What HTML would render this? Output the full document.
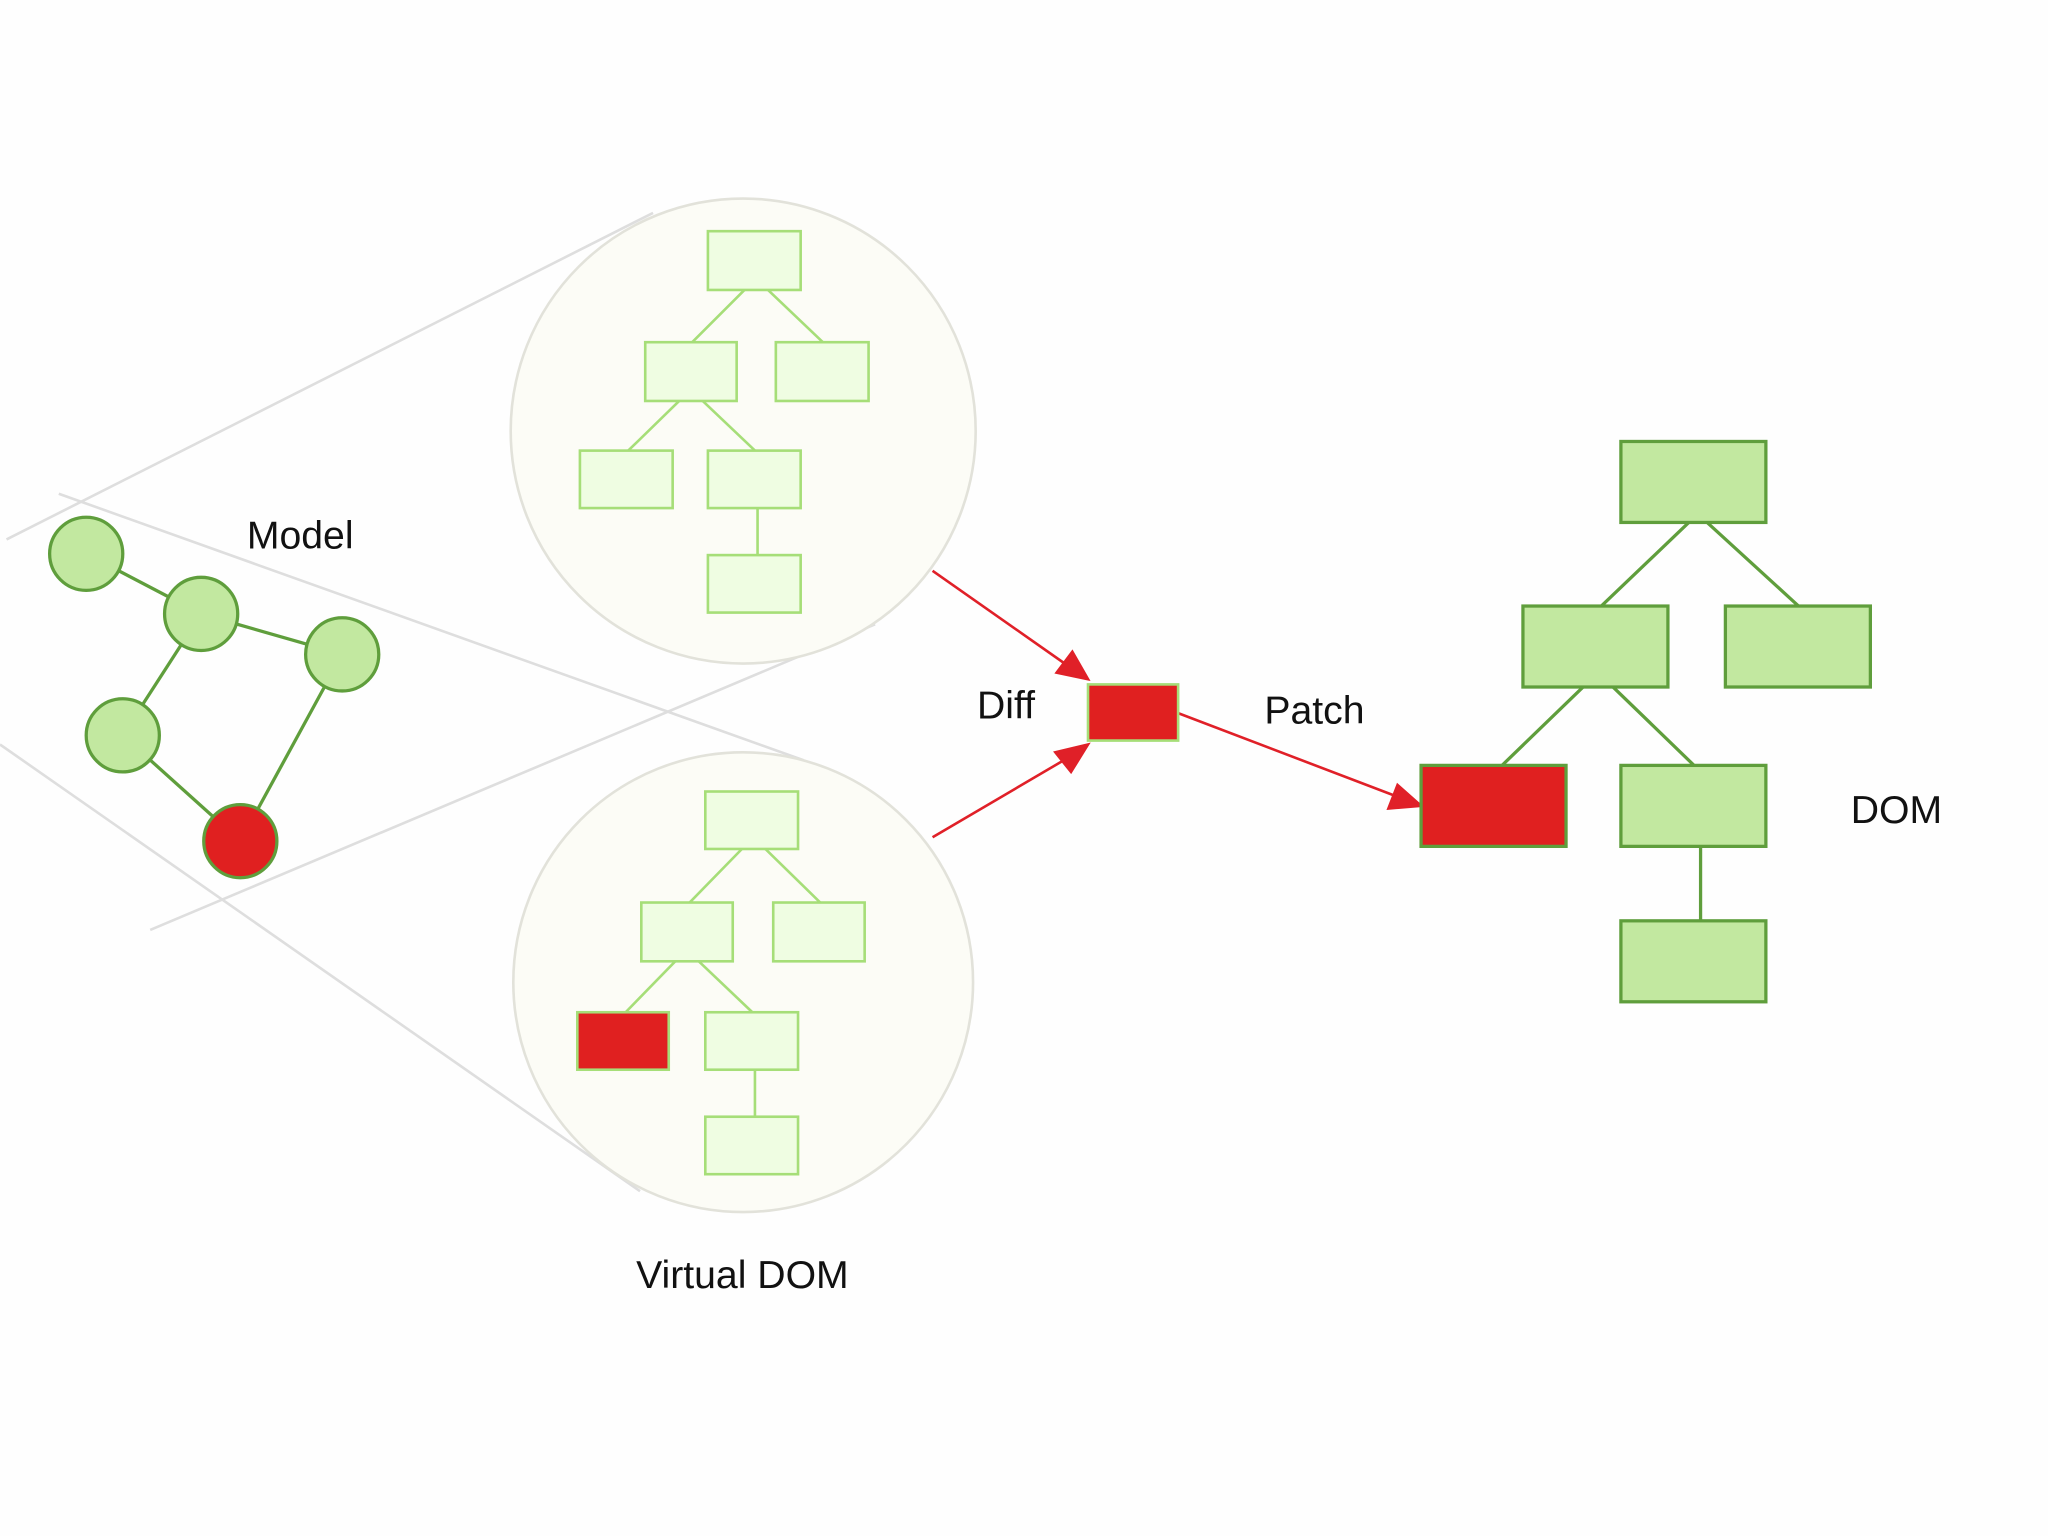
<!DOCTYPE html>
<html><head><meta charset="utf-8"><style>html,body{margin:0;padding:0;background:#fff}svg{display:block}</style></head>
<body>
<svg width="2048" height="1536" viewBox="0 0 1568 1176" xmlns="http://www.w3.org/2000/svg" font-family="Liberation Sans, sans-serif">
<rect width="1568" height="1176" fill="#fefefe"/>
<g stroke="#dedede" stroke-width="2" fill="none">
<line x1="5" y1="413" x2="500" y2="163"/>
<line x1="45" y1="378" x2="615" y2="582"/>
<line x1="115" y1="712" x2="670" y2="478"/>
<line x1="0" y1="570" x2="490" y2="912"/>
</g>
<circle cx="569" cy="330" r="178" fill="#fcfcf6" stroke="#e2e2da" stroke-width="2"/>
<circle cx="569" cy="752" r="176" fill="#fcfcf6" stroke="#e2e2da" stroke-width="2"/>
<g stroke="#a6de78" stroke-width="2">
<line x1="570" y1="222" x2="530" y2="262"/><line x1="588" y1="222" x2="630" y2="262"/>
<line x1="520" y1="307" x2="481" y2="345"/><line x1="538" y1="307" x2="578" y2="345"/>
<line x1="580" y1="389" x2="580" y2="425"/>
<line x1="568" y1="650" x2="528" y2="691"/><line x1="586" y1="650" x2="628" y2="691"/>
<line x1="517" y1="736" x2="479" y2="775"/><line x1="535" y1="736" x2="576" y2="775"/>
<line x1="578" y1="819" x2="578" y2="855"/>
</g>
<g fill="#effde2" stroke="#a6de78" stroke-width="2">
<rect x="542" y="177" width="71" height="45"/><rect x="494" y="262" width="70" height="45"/><rect x="594" y="262" width="71" height="45"/>
<rect x="444" y="345" width="71" height="44"/><rect x="542" y="345" width="71" height="44"/><rect x="542" y="425" width="71" height="44"/>
<rect x="540" y="606" width="71" height="44"/><rect x="491" y="691" width="70" height="45"/><rect x="592" y="691" width="70" height="45"/>
<rect x="540" y="775" width="71" height="44"/><rect x="540" y="855" width="71" height="44"/>
</g>
<rect x="442" y="775" width="70" height="44" fill="#e02020" stroke="#a6de78" stroke-width="2"/>
<g stroke="#5f9e3c" stroke-width="2.5">
<line x1="66" y1="424" x2="154" y2="470"/><line x1="154" y1="470" x2="262" y2="501"/>
<line x1="154" y1="470" x2="94" y2="563"/><line x1="94" y1="563" x2="184" y2="644"/>
<line x1="262" y1="501" x2="184" y2="644"/>
</g>
<g fill="#c2e8a0" stroke="#5f9e3c" stroke-width="2.5">
<circle cx="66" cy="424" r="28"/><circle cx="154" cy="470" r="28"/><circle cx="262" cy="501" r="28"/><circle cx="94" cy="563" r="28"/>
</g>
<circle cx="184" cy="644" r="28" fill="#e02020" stroke="#5f9e3c" stroke-width="2.5"/>
<g stroke="#e02028" stroke-width="2" fill="#e02028">
<line x1="714" y1="437" x2="818" y2="510"/><polygon points="833,520 809,515 821,499"/>
<line x1="714" y1="641" x2="818" y2="580"/><polygon points="833,570 820,591 808,576"/>
<line x1="902" y1="546" x2="1070" y2="610"/><polygon points="1088,617 1063,619 1070,601"/>
</g>
<rect x="833" y="524" width="69" height="43" fill="#e02020" stroke="#a6de78" stroke-width="2"/>
<g stroke="#5f9e3c" stroke-width="2.5">
<line x1="1293" y1="400" x2="1226" y2="464"/><line x1="1307" y1="400" x2="1377" y2="464"/>
<line x1="1212" y1="526" x2="1150" y2="586"/><line x1="1235" y1="526" x2="1297" y2="586"/>
<line x1="1302" y1="648" x2="1302" y2="705"/>
</g>
<g fill="#c2e8a0" stroke="#5f9e3c" stroke-width="2.5">
<rect x="1241" y="338" width="111" height="62"/><rect x="1166" y="464" width="111" height="62"/><rect x="1321" y="464" width="111" height="62"/>
<rect x="1241" y="586" width="111" height="62"/><rect x="1241" y="705" width="111" height="62"/>
</g>
<rect x="1088" y="586" width="111" height="62" fill="#e02020" stroke="#5f9e3c" stroke-width="2.5"/>
<g font-size="30" fill="#111">
<text x="189" y="420">Model</text>
<text x="748" y="550">Diff</text>
<text x="968" y="554">Patch</text>
<text x="1417" y="630">DOM</text>
<text x="487" y="986">Virtual DOM</text>
</g>
</svg>
</body></html>
